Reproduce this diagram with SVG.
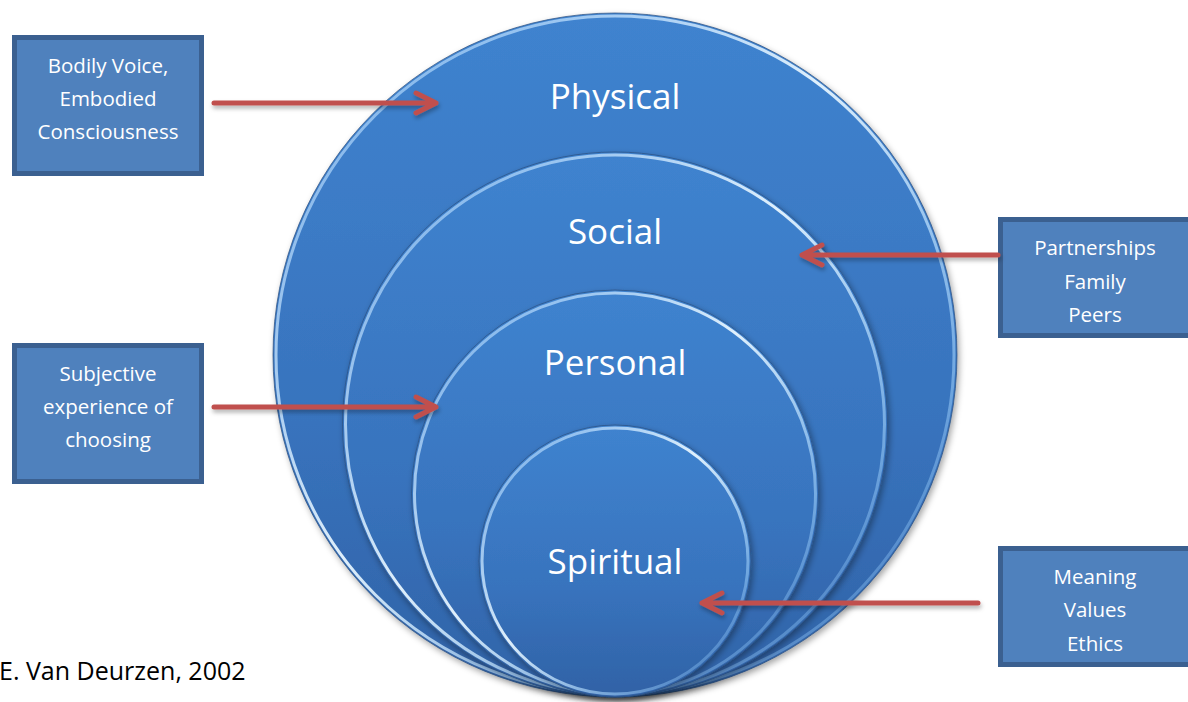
<svg xmlns="http://www.w3.org/2000/svg" width="1188" height="702" viewBox="0 0 1188 702">
<defs>
<style>
.box{fill:#4F81BD;stroke:#3B6090;stroke-width:5}
.btxt{font-family:"Open Sans","Liberation Sans",sans-serif;font-size:20.5px;fill:#FFFFFF;text-anchor:middle}
.ctxt{font-family:"Open Sans","Liberation Sans",sans-serif;font-size:35px;fill:#FFFFFF;text-anchor:middle}
.arr{fill:none;stroke:#C0504D;stroke-width:5;stroke-linecap:round;stroke-linejoin:round}
.disk{fill:url(#gBlue);stroke:#2B4E7E;stroke-width:1;stroke-opacity:0.7}
.rim{fill:none;stroke:url(#gRim);stroke-width:3}
</style>
<linearGradient id="gBlue" x1="0" y1="0" x2="0" y2="1">
<stop offset="0" stop-color="#3F83CF"/>
<stop offset="0.6" stop-color="#3873BD"/>
<stop offset="1" stop-color="#3062A6"/>
</linearGradient>
<linearGradient id="gRim" x1="0" y1="0" x2="1" y2="1">
<stop offset="0" stop-color="#9FD0FF" stop-opacity="0.5"/>
<stop offset="0.45" stop-color="#E8F6FF" stop-opacity="0.95"/>
<stop offset="0.75" stop-color="#A8D8FF" stop-opacity="0.55"/>
<stop offset="1" stop-color="#5A9AE0" stop-opacity="0.25"/>
</linearGradient>
<filter id="sh" x="-10%" y="-10%" width="120%" height="120%">
<feDropShadow dx="2" dy="3" stdDeviation="3" flood-color="#000" flood-opacity="0.35"/>
</filter>
<filter id="ash" x="-5%" y="-50%" width="110%" height="200%">
<feDropShadow dx="1" dy="3" stdDeviation="2" flood-color="#000" flood-opacity="0.3"/>
</filter>
</defs>
<rect width="1188" height="702" fill="#FFFFFF"/>
<g id="physical">
<circle class="disk" cx="615" cy="355" r="342" filter="url(#sh)"/>
<circle class="rim" cx="615" cy="355" r="339"/>
<text class="ctxt" x="615" y="109">Physical</text>
</g>
<g id="social">
<circle class="disk" cx="615" cy="424.5" r="272.5" filter="url(#sh)"/>
<circle class="rim" cx="615" cy="424.5" r="269.5"/>
<text class="ctxt" x="615" y="244">Social</text>
</g>
<g id="personal">
<circle class="disk" cx="615" cy="493.5" r="203.5" filter="url(#sh)"/>
<circle class="rim" cx="615" cy="493.5" r="200.5"/>
<text class="ctxt" x="615" y="375">Personal</text>
</g>
<g id="spiritual">
<circle class="disk" cx="615" cy="561" r="136" filter="url(#sh)"/>
<circle class="rim" cx="615" cy="561" r="133"/>
<text class="ctxt" x="615" y="574">Spiritual</text>
</g>
<g id="box-bodily">
<rect class="box" x="14.5" y="37.5" width="187" height="136"/>
<text class="btxt" x="108" y="73">Bodily Voice,</text>
<text class="btxt" x="108" y="106">Embodied</text>
<text class="btxt" x="108" y="139">Consciousness</text>
</g>
<g id="box-subjective">
<rect class="box" x="14.5" y="345.5" width="187" height="136"/>
<text class="btxt" x="108" y="381">Subjective</text>
<text class="btxt" x="108" y="414">experience of</text>
<text class="btxt" x="108" y="447">choosing</text>
</g>
<g id="box-partnerships">
<rect class="box" x="1000.5" y="219.5" width="190" height="116"/>
<text class="btxt" x="1095" y="255">Partnerships</text>
<text class="btxt" x="1095" y="289">Family</text>
<text class="btxt" x="1095" y="322">Peers</text>
</g>
<g id="box-meaning">
<rect class="box" x="1000.5" y="548.5" width="190" height="116"/>
<text class="btxt" x="1095" y="584">Meaning</text>
<text class="btxt" x="1095" y="617">Values</text>
<text class="btxt" x="1095" y="651">Ethics</text>
</g>
<g id="connectors" filter="url(#ash)">
<path class="arr" d="M214 103 H436 M416 93 L436 103 L416 113"/>
<path class="arr" d="M998 255 H802 M822 245 L802 255 L822 265"/>
<path class="arr" d="M214 407 H436 M416 397 L436 407 L416 417"/>
<path class="arr" d="M978 603 H702 M722 593 L702 603 L722 613"/>
</g>
<text x="-1" y="680" font-family="'Open Sans','Liberation Sans',sans-serif" font-size="25" fill="#000000">E. Van Deurzen, 2002</text>
</svg>
